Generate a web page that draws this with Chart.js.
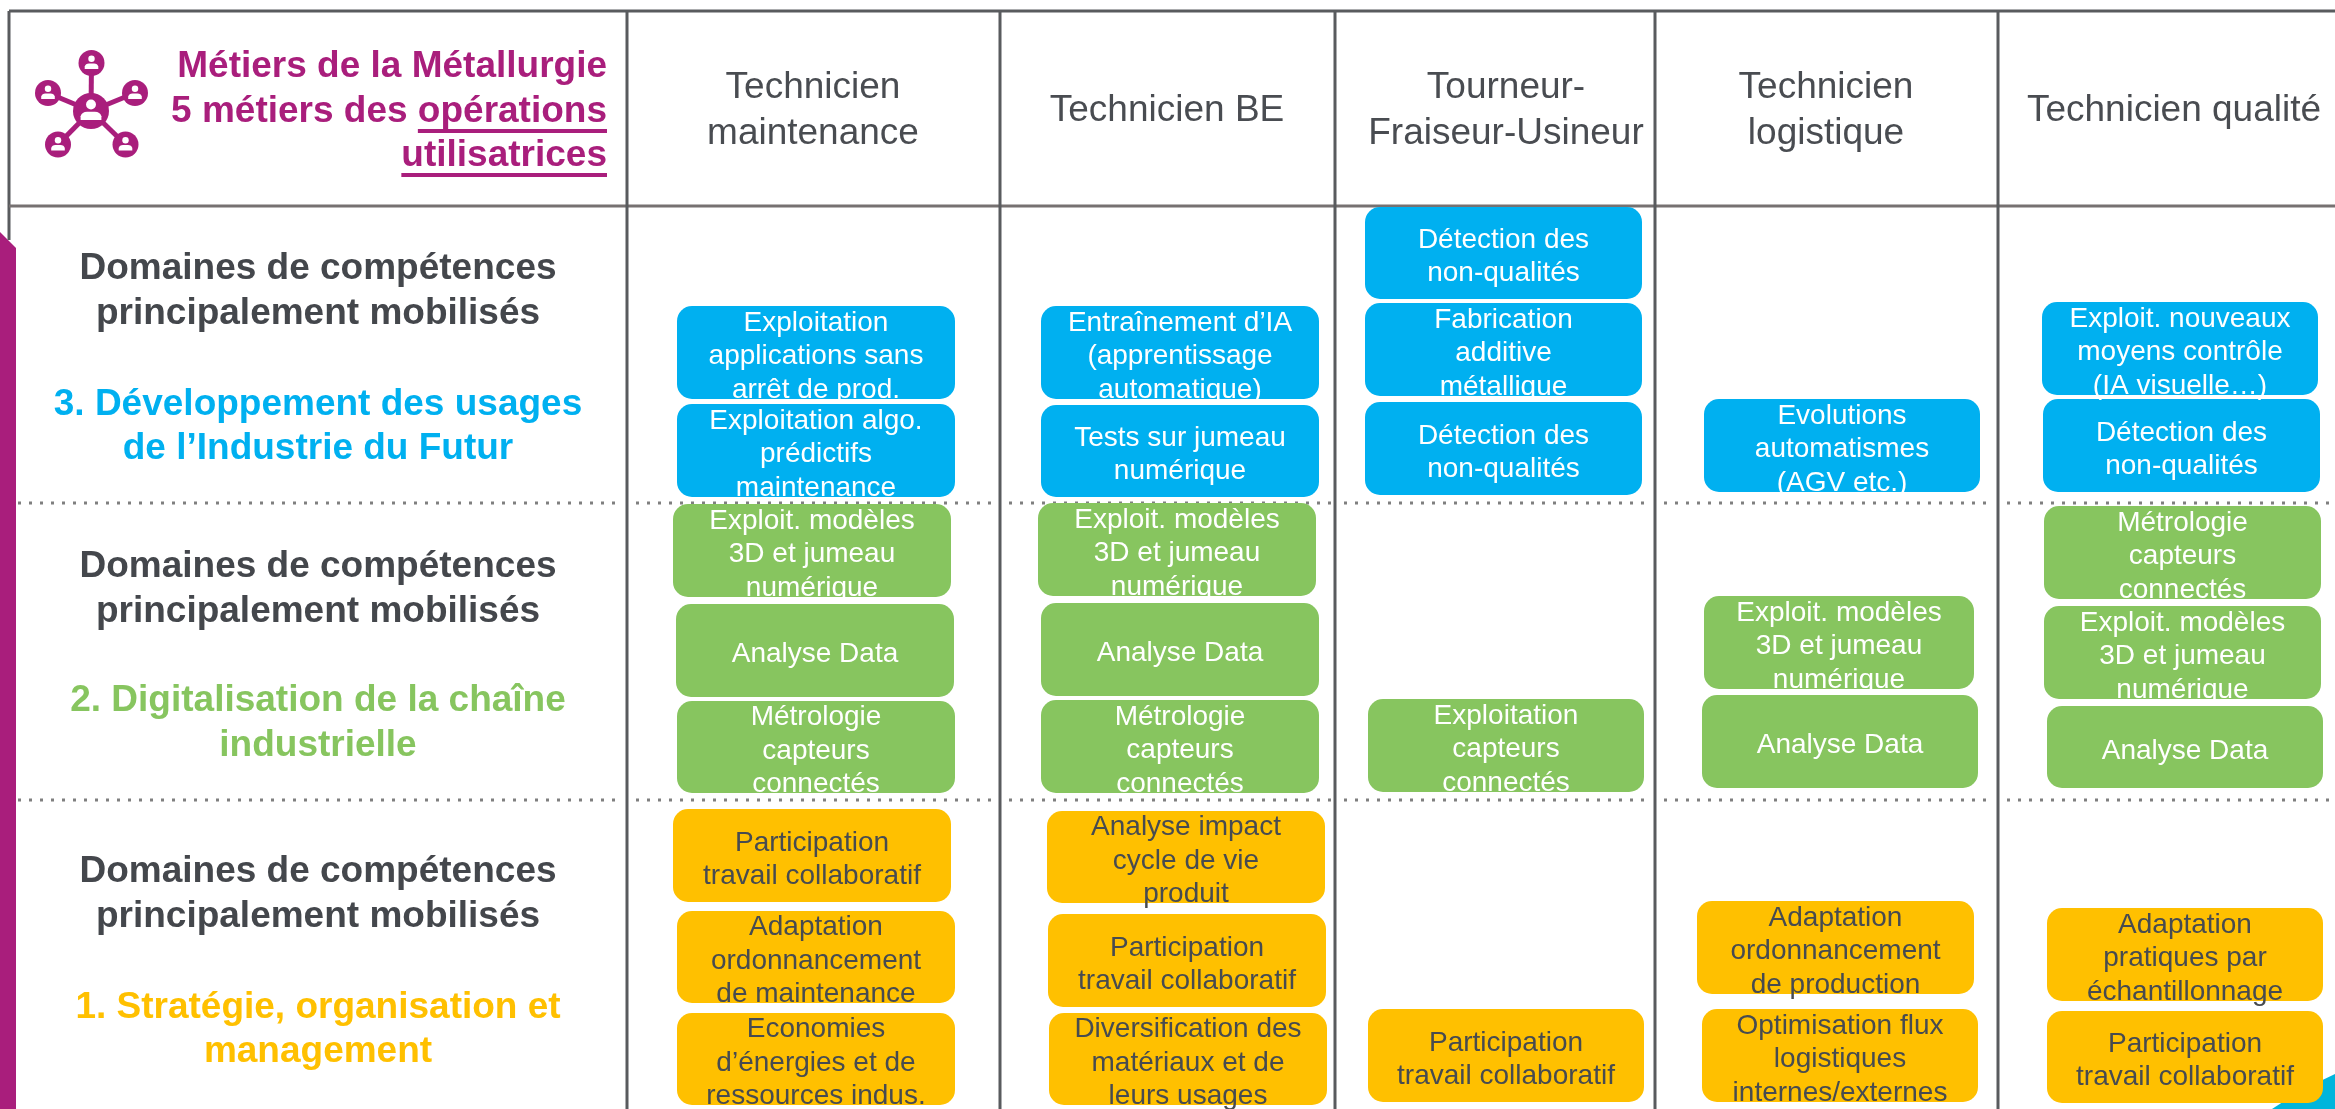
<!DOCTYPE html>
<html lang="fr">
<head>
<meta charset="utf-8">
<title>Métiers de la Métallurgie</title>
<script src="https://cdn.jsdelivr.net/npm/chart.js@4"></script>
<style>
  html, body { margin: 0; padding: 0; background: #fff; overflow: hidden; }
  canvas { display: block; }
</style>
</head>
<body>
<canvas id="chart" width="2335" height="1109"></canvas>
<script>
// Column headers and where they sit on the x axis
const metiers = [["Technicien", "maintenance"], ["Technicien BE"], ["Tourneur-", "Fraiseur-Usineur"], ["Technicien", "logistique"], ["Technicien qualité"]];
const metierX = [813, 1167, 1506, 1826, 2174];
const columnEdges = [627, 1000, 1335, 1655, 1998];
const rowRules = [11, 206];
const dottedRules = [503, 800];

// Skill boxes, one entry per box: 0 = strategy, 1 = digital, 2 = industry of the future
const boxLabels = [
  ["Exploitation", "applications sans", "arrêt de prod."],
  ["Exploitation algo.", "prédictifs", "maintenance"],
  ["Exploit. modèles", "3D et jumeau", "numérique"],
  ["Analyse Data"],
  ["Métrologie", "capteurs", "connectés"],
  ["Participation", "travail collaboratif"],
  ["Adaptation", "ordonnancement", "de maintenance"],
  ["Economies", "d’énergies et de", "ressources indus."],

  ["Entraînement d’IA", "(apprentissage", "automatique)"],
  ["Tests sur jumeau", "numérique"],
  ["Exploit. modèles", "3D et jumeau", "numérique"],
  ["Analyse Data"],
  ["Métrologie", "capteurs", "connectés"],
  ["Analyse impact", "cycle de vie", "produit"],
  ["Participation", "travail collaboratif"],
  ["Diversification des", "matériaux et de", "leurs usages"],

  ["Détection des", "non-qualités"],
  ["Fabrication", "additive", "métallique"],
  ["Détection des", "non-qualités"],
  ["Exploitation", "capteurs", "connectés"],
  ["Participation", "travail collaboratif"],

  ["Evolutions", "automatismes", "(AGV etc.)"],
  ["Exploit. modèles", "3D et jumeau", "numérique"],
  ["Analyse Data"],
  ["Adaptation", "ordonnancement", "de production"],
  ["Optimisation flux", "logistiques", "internes/externes"],

  ["Exploit. nouveaux", "moyens contrôle", "(IA visuelle…)"],
  ["Détection des", "non-qualités"],
  ["Métrologie", "capteurs", "connectés"],
  ["Exploit. modèles", "3D et jumeau", "numérique"],
  ["Analyse Data"],
  ["Adaptation", "pratiques par", "échantillonnage"],
  ["Participation", "travail collaboratif"]
];
const boxDomain = [2, 2, 1, 1, 1, 0, 0, 0,  2, 2, 1, 1, 1, 0, 0, 0,  2, 2, 2, 1, 0,  2, 1, 1, 0, 0,  2, 2, 1, 1, 1, 0, 0];
const boxLeft = [677, 677, 673, 676, 677, 673, 677, 677,  1041, 1041, 1038, 1041, 1041, 1047, 1048, 1049,  1365, 1365, 1365, 1368, 1368,  1704, 1704, 1702, 1697, 1702,  2042, 2043, 2044, 2044, 2047, 2047, 2047];
const boxRight = [955, 955, 951, 954, 955, 951, 955, 955,  1319, 1319, 1316, 1319, 1319, 1325, 1326, 1327,  1642, 1642, 1642, 1644, 1644,  1980, 1974, 1978, 1974, 1978,  2318, 2320, 2321, 2321, 2323, 2323, 2323];
const boxTop = [306, 404, 504, 604, 701, 809, 911, 1013,  306, 405, 503, 603, 700, 811, 914, 1013,  207, 303, 402, 699, 1009,  399, 596, 695, 901, 1009,  302, 399, 506, 606, 706, 908, 1011];
const boxBottom = [399, 497, 597, 697, 793, 902, 1003, 1105,  399, 497, 596, 696, 793, 903, 1007, 1105,  299, 396, 495, 792, 1102,  492, 689, 788, 994, 1102,  395, 492, 599, 699, 788, 1001, 1103];

// Left hand column
const domainColors = ["#FFC000", "#87C55F", "#00B0F0"];
const domainText = ["#474B50", "#FFFFFF", "#FFFFFF"];
const sideLabels = [
  { lines: ["Domaines de compétences", "principalement mobilisés"], ys: [269, 314], color: "#44474C" },
  { lines: ["3. Développement des usages", "de l’Industrie du Futur"], ys: [405, 449], color: domainColors[2] },
  { lines: ["Domaines de compétences", "principalement mobilisés"], ys: [567, 612], color: "#44474C" },
  { lines: ["2. Digitalisation de la chaîne", "industrielle"], ys: [701, 746], color: domainColors[1] },
  { lines: ["Domaines de compétences", "principalement mobilisés"], ys: [872, 917], color: "#44474C" },
  { lines: ["1. Stratégie, organisation et", "management"], ys: [1008, 1052], color: domainColors[0] }
];

const magenta = "#A91E7C";
const ruleDark = "#595B5E";
const ruleLight = "#767171";
const textFont = '"Liberation Sans", Arial, sans-serif';

function ruleDataset(x1, y1, x2, y2, color, dash) {
  return {
    type: "line",
    data: [{ x: x1, y: y1 }, { x: x2, y: y2 }],
    borderColor: color,
    borderWidth: 3,
    borderDash: dash || [],
    pointRadius: 0,
    order: 2
  };
}

const datasets = [];

// table rules
columnEdges.forEach(x => datasets.push(ruleDataset(x, rowRules[0], x, 1109, ruleDark)));
datasets.push(ruleDataset(9, rowRules[0], 2335, rowRules[0], ruleDark));
datasets.push(ruleDataset(9, rowRules[1], 2335, rowRules[1], ruleLight));
datasets.push(ruleDataset(9, rowRules[0], 9, 240, ruleDark));

// dotted separators, restarted in every column
dottedRules.forEach(y => {
  [18].concat(columnEdges.map(x => x + 9)).forEach((start, i) => {
    const end = i < columnEdges.length ? columnEdges[i] - 4 : 2335;
    datasets.push(ruleDataset(start, y, end, y, "#7F7F7F", [3, 8]));
  });
});

// skill boxes as floating bars
boxLabels.forEach((label, i) => {
  datasets.push({
    type: "bar",
    label: label.join(" "),
    data: [{ x: (boxLeft[i] + boxRight[i]) / 2, y: [boxTop[i], boxBottom[i]] }],
    backgroundColor: domainColors[boxDomain[i]],
    borderRadius: 15,
    borderSkipped: false,
    grouped: false,
    barPercentage: 1000,
    maxBarThickness: boxRight[i] - boxLeft[i],
    order: 1
  });
});

function drawLines(ctx, lines, x, ys, font, color, align) {
  ctx.font = font;
  ctx.fillStyle = color;
  ctx.textAlign = align || "center";
  ctx.textBaseline = "middle";
  lines.forEach((line, i) => ctx.fillText(line, x, ys[i]));
}

function drawPerson(ctx, cx, cy, s) {
  ctx.fillStyle = "#fff";
  ctx.beginPath();
  ctx.arc(cx, cy - 5 * s, 3.8 * s, 0, Math.PI * 2);
  ctx.fill();
  ctx.beginPath();
  ctx.moveTo(cx - 8 * s, cy + 7 * s);
  ctx.lineTo(cx - 8 * s, cy + 4 * s);
  ctx.quadraticCurveTo(cx - 7 * s, cy + 0.5 * s, cx - 3 * s, cy + 0.5 * s);
  ctx.lineTo(cx + 3 * s, cy + 0.5 * s);
  ctx.quadraticCurveTo(cx + 7 * s, cy + 0.5 * s, cx + 8 * s, cy + 4 * s);
  ctx.lineTo(cx + 8 * s, cy + 7 * s);
  ctx.closePath();
  ctx.fill();
}

function drawIcon(ctx) {
  const centre = [91, 111];
  const nodes = [[91.5, 63], [48, 93], [135, 93], [58, 144.5], [125.5, 144.5]];
  ctx.strokeStyle = magenta;
  ctx.lineWidth = 5;
  nodes.forEach(n => {
    ctx.beginPath();
    ctx.moveTo(centre[0], centre[1]);
    ctx.lineTo(n[0], n[1]);
    ctx.stroke();
  });
  ctx.fillStyle = magenta;
  ctx.beginPath();
  ctx.arc(centre[0], centre[1], 18, 0, Math.PI * 2);
  ctx.fill();
  nodes.forEach(n => {
    ctx.fillStyle = magenta;
    ctx.beginPath();
    ctx.arc(n[0], n[1], 13, 0, Math.PI * 2);
    ctx.fill();
    drawPerson(ctx, n[0], n[1], 0.85);
  });
  drawPerson(ctx, centre[0], centre[1], 1.3);
}

const slideDecor = {
  id: "slideDecor",
  beforeDatasetsDraw(chart) {
    const ctx = chart.ctx;
    ctx.save();
    // magenta band on the left edge
    ctx.fillStyle = magenta;
    ctx.beginPath();
    ctx.moveTo(0, 232);
    ctx.lineTo(16, 248);
    ctx.lineTo(16, 1109);
    ctx.lineTo(0, 1109);
    ctx.closePath();
    ctx.fill();
    // teal corner bottom right
    ctx.fillStyle = "#00B5DC";
    ctx.beginPath();
    ctx.moveTo(2272, 1109);
    ctx.quadraticCurveTo(2300, 1090, 2335, 1074);
    ctx.lineTo(2335, 1109);
    ctx.closePath();
    ctx.fill();
    ctx.restore();
  },
  afterDatasetsDraw(chart) {
    const ctx = chart.ctx;
    const { x: xs, y: ysc } = chart.scales;
    ctx.save();

    drawIcon(ctx);

    // title, right aligned with two underlined words
    const titleFont = "bold 37px " + textFont;
    const titleX = xs.getPixelForValue(607);
    drawLines(ctx, ["Métiers de la Métallurgie", "5 métiers des opérations", "utilisatrices"], titleX, [67, 112, 156], titleFont, magenta, "right");
    ctx.fillStyle = magenta;
    ctx.fillRect(titleX - ctx.measureText("opérations").width, 129, ctx.measureText("opérations").width, 4);
    ctx.fillRect(titleX - ctx.measureText("utilisatrices").width, 173, ctx.measureText("utilisatrices").width, 4);

    // job headers
    metiers.forEach((lines, i) => {
      const ys = lines.length === 2 ? [88, 134] : [111];
      drawLines(ctx, lines, xs.getPixelForValue(metierX[i]), ys.map(v => ysc.getPixelForValue(v)), "37px " + textFont, "#494C51");
    });

    // left column
    sideLabels.forEach(s => {
      drawLines(ctx, s.lines, xs.getPixelForValue(318), s.ys.map(v => ysc.getPixelForValue(v)), "bold 37px " + textFont, s.color);
    });

    // box captions, centred on the box, line pitch 33px
    boxLabels.forEach((lines, i) => {
      const mid = (boxTop[i] + boxBottom[i]) / 2 + 4;
      const ys = lines.map((_, k) => mid + (k - (lines.length - 1) / 2) * 33.4);
      const cx = (boxLeft[i] + boxRight[i]) / 2;
      drawLines(ctx, lines, xs.getPixelForValue(cx), ys.map(v => ysc.getPixelForValue(v)), "28px " + textFont, domainText[boxDomain[i]]);
    });
    ctx.restore();
  }
};

new Chart(document.getElementById("chart"), {
  data: { datasets: datasets },
  options: {
    responsive: false,
    animation: false,
    events: [],
    layout: { padding: 0 },
    plugins: { legend: { display: false }, tooltip: { enabled: false } },
    scales: {
      x: { type: "linear", min: 0, max: 2335, offset: false, display: false },
      y: { type: "linear", min: 0, max: 1109, reverse: true, display: false }
    }
  },
  plugins: [slideDecor]
});
</script>
</body>
</html>
